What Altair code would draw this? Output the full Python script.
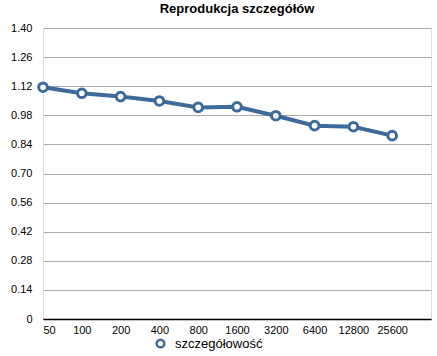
import altair as alt
import pandas as pd
import json

x_labels = ["50", "100", "200", "400", "800", "1600", "3200", "6400", "12800", "25600"]
values = [1.115, 1.086, 1.070, 1.049, 1.018, 1.021, 0.978, 0.930, 0.925, 0.882]
y_ticks = [0, 0.14, 0.28, 0.42, 0.56, 0.70, 0.84, 0.98, 1.12, 1.26, 1.40]
series_name = "szczegółowość"

df = pd.DataFrame({
    "idx": list(range(len(x_labels))),
    "label": x_labels,
    "value": values,
    "series": [series_name] * len(x_labels),
})

blue = "#3d6a9a"
font = "Liberation Sans"

x_enc = alt.X("idx:Q", scale=alt.Scale(domain=[0, len(x_labels)], nice=False, zero=False),
              axis=alt.Axis(values=list(range(len(x_labels))),
                            labelExpr=json.dumps(x_labels) + "[datum.value]",
                            title=None, grid=False, ticks=False,
                            domainColor="black", domainWidth=1.5,
                            labelFont=font, labelFontSize=11, labelColor="black",
                            labelPadding=5, labelAngle=0))
y_enc = alt.Y("value:Q", scale=alt.Scale(domain=[0, 1.40], nice=False),
              axis=alt.Axis(values=y_ticks, title=None, domain=False, ticks=False,
                            labelExpr="datum.value == 0 ? '0' : format(datum.value, '.2f')",
                            gridColor="#aaaaaa", gridWidth=1,
                            labelFont=font, labelFontSize=11, labelColor="black",
                            labelPadding=11))
color_enc = alt.Color("series:N", scale=alt.Scale(range=[blue]),
                      legend=alt.Legend(title=None, orient="none", legendX=111, legendY=309,
                                        symbolType="circle", symbolFillColor="white",
                                        symbolStrokeColor=blue, symbolStrokeWidth=2.5,
                                        symbolSize=60, labelFont=font, labelFontSize=13,
                                        labelColor="black", labelOffset=8))

line = alt.Chart(df).mark_line(strokeWidth=4).encode(x=x_enc, y=y_enc, color=color_enc)
points = alt.Chart(df).mark_point(filled=False, fill="white", fillOpacity=1, strokeWidth=3,
                                  size=75, opacity=1).encode(x=x_enc, y=y_enc, color=color_enc)

chart = alt.layer(line, points).properties(
    width=388, height=291,
    title=alt.TitleParams("Reprodukcja szczegółów", font=font, fontSize=13, fontWeight="bold",
                          color="black", anchor="middle", offset=6),
    autosize=alt.AutoSizeParams(type="none"),
    padding={"left": 43, "top": 28, "right": 6, "bottom": 37},
).configure_view(stroke=None).configure(background="white")

chart.save("out.html", embed_options={"renderer": "svg", "actions": False})
